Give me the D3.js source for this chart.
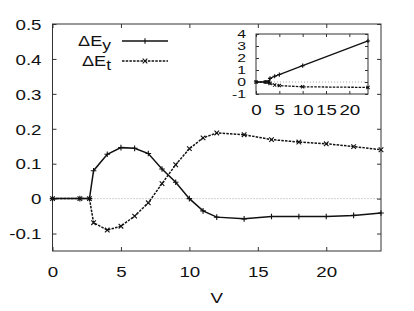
<!DOCTYPE html>
<html><head><meta charset="utf-8">
<script src="https://cdn.jsdelivr.net/npm/d3@7"></script>
<style>body{margin:0;background:#fff}svg{display:block}text{font-family:"Liberation Sans",Arial,sans-serif;fill:#111}</style>
</head><body>
<svg id="c" width="414" height="311"></svg>
<script>
// main data
const V  = [0, 2, 2.7, 3, 4, 5, 6, 7, 8, 9, 10, 11, 12, 14, 16, 18, 20, 22, 24];
const Ey = [0, 0, 0, 0.08, 0.127, 0.146, 0.144, 0.129, 0.085, 0.047, 0.0, -0.035, -0.053, -0.058, -0.051, -0.051, -0.051, -0.048, -0.041];
const Et = [0, 0, 0, -0.069, -0.09, -0.079, -0.05, -0.012, 0.043, 0.097, 0.143, 0.174, 0.188, 0.183, 0.169, 0.162, 0.157, 0.149, 0.14];
const xTicks = [0, 5, 10, 15, 20];
const yTicks = [-0.1, 0, 0.1, 0.2, 0.3, 0.4, 0.5];
// inset data
const insetV  = [0, 2, 2.7, 3, 4, 5, 10, 24];
const insetEy = [0, 0, 0, 0.3, 0.48, 0.62, 1.36, 3.42];
const insetEt = [0, 0, 0, -0.12, -0.25, -0.3, -0.4, -0.45];
const insetXTicks = [0, 5, 10, 15, 20];
const insetYTicks = [-1, 0, 1, 2, 3, 4];
const seriesNames = ["E", "E"];
const seriesSubs = ["y", "t"];
const xLabel = "V";

const S = 1.25; // horizontal glyph stretch
const fmt = d => String(+d.toFixed(3));
const svg = d3.select("#c");

function panel(g, X, Y, xt, yt, tick, fsX, fsY, sY, labGapY, labGapX) {
  const [x0, x1] = X.range(), [y0, y1] = Y.range();
  g.append("line").attr("x1", x0).attr("x2", x1).attr("y1", Y(0)).attr("y2", Y(0))
    .attr("stroke", "#aaa").attr("stroke-width", 1).attr("stroke-dasharray", "1,2");
  g.append("rect").attr("x", x0).attr("y", y1).attr("width", x1 - x0).attr("height", y0 - y1)
    .attr("fill", "none").attr("stroke", "#333").attr("stroke-width", 1);
  const ax = [
    [d3.axisBottom(X).tickValues(xt).tickSize(-tick).tickFormat(fmt), `translate(0,${y0})`],
    [d3.axisTop(X).tickValues(xt).tickSize(-tick).tickFormat(""), `translate(0,${y1})`],
    [d3.axisLeft(Y).tickValues(yt).tickSize(-tick).tickFormat(fmt), `translate(${x0},0)`],
    [d3.axisRight(Y).tickValues(yt).tickSize(-tick).tickFormat(""), `translate(${x1},0)`]
  ];
  ax.forEach(([a, tr], i) => {
    const ag = g.append("g").attr("transform", tr).call(a.tickPadding(0));
    ag.select(".domain").remove();
    ag.selectAll("line").attr("stroke", "#333");
    ag.selectAll("text").attr("font-family", '"Liberation Sans",Arial,sans-serif').attr("fill", "#111");
    if (i === 0) ag.selectAll("text").attr("font-size", fsX).attr("transform", `scale(${S},1)`).attr("y", labGapX).attr("dy", "0.71em");
    if (i === 2) ag.selectAll("text").attr("font-size", fsY).attr("transform", `scale(${sY},1)`).attr("x", -labGapY / sY).attr("dy", "0.35em");
  });
}

function series(g, X, Y, xs, ys, dashed, lw, ms) {
  const pts = xs.map((v, i) => [X(v), Y(ys[i])]);
  g.append("path").attr("d", d3.line()(pts)).attr("fill", "none").attr("stroke", "#111")
    .attr("stroke-width", lw).attr("stroke-dasharray", dashed ? "2.5,1.2" : null);
  if (ms <= 0) return;
  const m = g.append("g");
  pts.forEach(([px, py]) => {
    const d = dashed
      ? `M${px - ms},${py - ms}L${px + ms},${py + ms}M${px - ms},${py + ms}L${px + ms},${py - ms}`
      : `M${px - ms - 0.5},${py}L${px + ms + 0.5},${py}M${px},${py - ms - 0.5}L${px},${py + ms + 0.5}`;
    m.append("path").attr("d", d).attr("stroke", "#111").attr("stroke-width", 1.1).attr("fill", "none");
  });
}

// main panel
const x = d3.scaleLinear().domain([0, 24]).range([52.5, 381]);
const y = d3.scaleLinear().domain([-0.15, 0.5]).range([251, 24]);
const main = svg.append("g");
panel(main, x, y, xTicks, yTicks, 4, 15, 15, S, 11, 15);
series(main, x, y, V, Et, true, 1.5, 2.3);
series(main, x, y, V, Ey, false, 1.5, 2.3);

// x label
svg.append("text").attr("transform", `translate(${(52.5 + 381) / 2},303) scale(${S},1)`)
  .attr("text-anchor", "middle").attr("font-size", 15).text(xLabel);

// legend
[[41, false], [61, true]].forEach(([ly, dashed], i) => {
  const t = svg.append("text").attr("transform", `translate(111,${ly + 5}) scale(${S},1)`)
    .attr("text-anchor", "end").attr("font-size", 14.5);
  t.append("tspan").text("Δ" + seriesNames[i]);
  t.append("tspan").attr("font-size", 14).attr("dy", 4).text(seriesSubs[i]);
  const lx = d3.scaleLinear().domain([0, 1]).range([122, 168]);
  series(svg, lx, d3.scaleLinear().domain([0, 1]).range([ly, ly]), [0, 1], [0, 0], dashed, 1.5, 0);
  const mx = lx(0.5);
  const ms = 2.3;
  svg.append("path").attr("d", dashed
      ? `M${mx - ms},${ly - ms}L${mx + ms},${ly + ms}M${mx - ms},${ly + ms}L${mx + ms},${ly - ms}`
      : `M${mx},${ly - ms - 0.5}L${mx},${ly + ms + 0.5}`)
    .attr("stroke", "#111").attr("stroke-width", 1.1);
});

// inset
const xi = d3.scaleLinear().domain([0, 24]).range([256, 368]);
const yi = d3.scaleLinear().domain([-1, 4]).range([94, 34]);
const ins = svg.append("g");
ins.append("rect").attr("x", 256).attr("y", 34).attr("width", 112).attr("height", 60).attr("fill", "#fff");
panel(ins, xi, yi, insetXTicks, insetYTicks, 3, 15, 10.5, 1.5, 10, 10);
series(ins, xi, yi, insetV, insetEt, true, 1.3, 1.6);
series(ins, xi, yi, insetV, insetEy, false, 1.3, 1.6);
</script>
</body></html>
